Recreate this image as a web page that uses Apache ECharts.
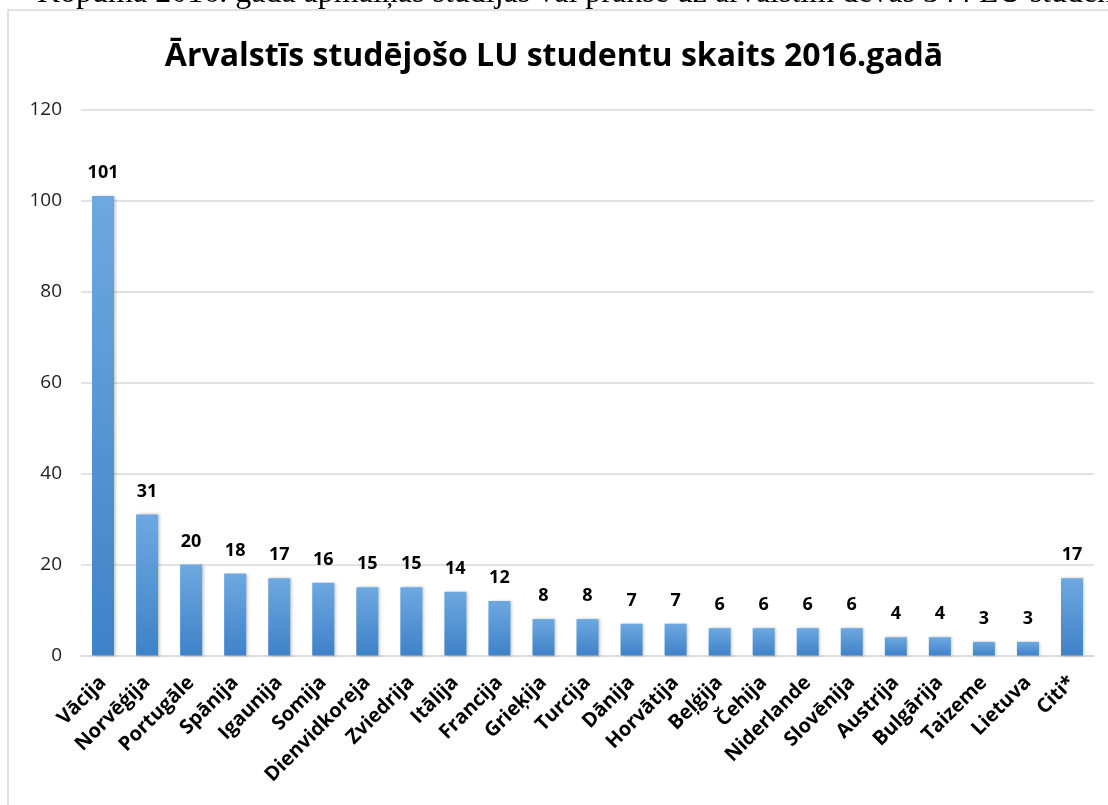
<!DOCTYPE html>
<html>
<head>
<meta charset="utf-8">
<script src="https://cdn.jsdelivr.net/npm/echarts@6/dist/echarts.min.js"></script>
<style>
  html, body { margin: 0; padding: 0; background: #fff; }
  #main { width: 1108px; height: 805px; }
</style>
</head>
<body>
<div id="main"></div>
<script>
// valstis un studentu skaits
const countries = ['Vācija', 'Norvēģija', 'Portugāle', 'Spānija', 'Igaunija', 'Somija', 'Dienvidkoreja',
  'Zviedrija', 'Itālija', 'Francija', 'Grieķija', 'Turcija', 'Dānija', 'Horvātija', 'Beļģija', 'Čehija',
  'Niderlande', 'Slovēnija', 'Austrija', 'Bulgārija', 'Taizeme', 'Lietuva', 'Citi*'];
const students = [101, 31, 20, 18, 17, 16, 15, 15, 14, 12, 8, 8, 7, 7, 6, 6, 6, 6, 4, 4, 3, 3, 17];
const yTicks = { min: 0, max: 120, interval: 20 };

const titleText = 'Ārvalstīs studējošo LU studentu skaits 2016.gadā';
const pageText = 'Kopumā 2016. gadā apmaiņas studijās vai praksē uz ārvalstīm devās 344 LU studenti';

const chart = echarts.init(document.getElementById('main'), null, { renderer: 'canvas' });

const font = '"Open Sans", sans-serif';

chart.setOption({
  backgroundColor: '#fff',
  animation: false,
  title: {
    text: titleText,
    left: 'center',
    top: 36,
    textStyle: { fontFamily: font, fontSize: 32, fontWeight: 'bold', color: '#000' }
  },
  graphic: [
    {
      // dokumenta teksts virs diagrammas, apgriezts no augšas
      type: 'text',
      left: 37,
      top: -22,
      style: {
        text: pageText,
        fontFamily: '"Liberation Serif", serif',
        fontSize: 32,
        fill: '#000'
      }
    },
    {
      type: 'rect',
      shape: { x: 8, y: 10, width: 1130, height: 830 },
      style: { fill: 'none', stroke: '#d9d9d9', lineWidth: 1.5 },
      z: -1
    }
  ],
  grid: { left: 81, right: 14, top: 109.5, bottom: 149.5 },
  xAxis: {
    type: 'category',
    data: countries,
    axisLine: { show: true, lineStyle: { color: '#d9d9d9', width: 1.5 } },
    axisTick: { show: false },
    axisLabel: {
      interval: 0,
      rotate: 45,
      margin: 24,
      fontFamily: font,
      fontSize: 20,
      fontWeight: 'bold',
      color: '#000'
    }
  },
  yAxis: {
    type: 'value',
    min: yTicks.min,
    max: yTicks.max,
    interval: yTicks.interval,
    axisLine: { show: false },
    axisTick: { show: false },
    axisLabel: { fontFamily: font, fontSize: 19, color: '#222', margin: 19 },
    splitLine: { lineStyle: { color: '#d9d9d9', width: 1.5 } }
  },
  series: [{
    type: 'bar',
    data: students,
    barWidth: 22,
    itemStyle: {
      color: new echarts.graphic.LinearGradient(0, 0, 0, 1, [
        { offset: 0, color: '#6ea8e0' },
        { offset: 1, color: '#3f82c8' }
      ]),
      shadowColor: 'rgba(0,0,0,0.25)',
      shadowBlur: 3,
      shadowOffsetX: 1.5,
      shadowOffsetY: 0
    },
    label: {
      show: true,
      position: 'top',
      distance: 14,
      fontFamily: font,
      fontSize: 18,
      fontWeight: 'bold',
      color: '#000'
    }
  }]
});
</script>
</body>
</html>
